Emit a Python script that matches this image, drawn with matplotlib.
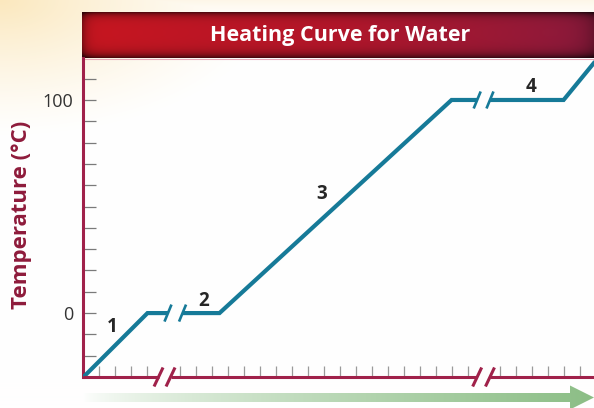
import numpy as np
import matplotlib
matplotlib.use("Agg")
import matplotlib.pyplot as plt
from matplotlib.patches import Polygon

W, H, DPI = 594, 408, 100

# Temperature axis
y_ticks = list(range(-20, 111, 10))
y_tick_labels = {0: "0", 100: "100"}
y_min, y_max = -30, 119.7

# Heat-added axis (arbitrary units), ticks skipped where the axis is broken
x_ticks = [k for k in range(1, 32) if k not in (5, 25)]
x_min, x_max = -0.03, 31.9
axis_break_marks = [(4.69, 5.44), (24.6, 25.4)]

# Heating curve, split into pieces at the two breaks
seg_x = [[0, 4, 5.28], [6.19, 8.5, 23, 24.6], [25.4, 30, 32.4]]
seg_y = [[-30, 0, 0], [0, 0, 100, 100], [100, 100, 122]]
curve_break_marks = [(5.28, 0), (6.19, 0), (24.6, 100), (25.4, 100)]

phase_labels = ["1", "2", "3", "4"]
phase_x = [1.78, 7.53, 14.9, 27.97]
phase_y = [-6.6, 5.6, 55.9, 106]

title = "Heating Curve for Water"
ylabel = "Temperature (°C)"

MAROON = "#A0214A"
CURVE = "#167A98"
FONT = ["Open Sans", "DejaVu Sans"]

fig = plt.figure(figsize=(W / DPI, H / DPI), dpi=DPI)

# ---- background layer in pixel coordinates ----
bg = fig.add_axes([0, 0, 1, 1], zorder=0)
bg.set_xlim(0, W)
bg.set_ylim(H, 0)
bg.axis("off")

yy, xx = np.mgrid[0:H, 0:W].astype(float)
glow = np.clip(1 - np.sqrt((xx / 280) ** 2 + (yy / 140) ** 2), 0, 1) ** 1.3
glow = np.maximum(glow, 0.35 * np.exp(-yy / 12))
cream = np.array([251, 232, 190]) / 255
img = np.ones((H, W, 3)) * (1 - glow[..., None]) + cream * glow[..., None]
bg.imshow(img, extent=(0, W, H, 0), aspect="auto", interpolation="bilinear")

# title band with shaded edges
bx0, bx1, by0, by1 = 82, W, 12, 58
bw, bh = bx1 - bx0, by1 - by0
t = np.linspace(0, 1, bw)
left_c = np.array([200, 22, 32]) / 255
mid_c = np.array([178, 22, 42]) / 255
right_c = np.array([140, 26, 60]) / 255
base = np.where(t[:, None] < 0.5,
                left_c + (mid_c - left_c) * (t[:, None] / 0.5),
                mid_c + (right_c - mid_c) * ((t[:, None] - 0.5) / 0.5))
vy = np.arange(bh)[:, None]
vx = np.arange(bw)[None, :]
shade = (1 - 0.55 * np.exp(-vy / 3.5) - 0.6 * np.exp(-(bh - 1 - vy) / 4.5)
         - 0.35 * np.exp(-vx / 5) - 0.25 * np.exp(-(bw - 1 - vx) / 12))
shade = np.clip(shade, 0.25, 1)
band = base[None, :, :] * shade[..., None]
bg.imshow(band, extent=(bx0, bx1, by1, by0), aspect="auto", interpolation="bilinear")
bg.plot([bx0, bx1], [by1 + 0.5, by1 + 0.5], color="#E7A9B8", lw=0.8)
bg.text(340, (by0 + by1) / 2 + 1, title, color="white",
        fontsize=15.5, fontweight="bold", family=FONT, ha="center", va="center")

# green arrow along the bottom
ax0, head = 83, 570
arrow = Polygon([(ax0, 393), (head, 393), (head, 385.5), (W, 397.5),
                 (head, 409.5), (head, 402), (ax0, 402)], closed=True,
                facecolor="none", edgecolor="none")
bg.add_patch(arrow)
ta = np.linspace(0, 1, W - ax0) ** 0.7
green = np.array([140, 190, 134]) / 255
grad = (1 - ta[:, None]) * np.ones(3) + ta[:, None] * green
grad_img = bg.imshow(grad[None, :, :], extent=(ax0, W, 410, 384),
                     aspect="auto", interpolation="bilinear")
grad_img.set_clip_path(arrow)

# ---- chart ----
L, R, B, T = 83 / W, 1.0, (H - 377) / H, (H - 58) / H
ax = fig.add_axes([L, B, R - L, T - B], zorder=2)
ax.patch.set_alpha(0)
ax.set_xlim(x_min, x_max)
ax.set_ylim(y_min, y_max)

px_x = (W * (R - L)) / (x_max - x_min)
px_y = (H * (T - B)) / (y_max - y_min)

for xs, ys in zip(seg_x, seg_y):
    ax.plot(xs, ys, color=CURVE, lw=3.0, solid_joinstyle="miter",
            solid_capstyle="butt", zorder=3)

for xc, yc in curve_break_marks:
    dx, dy = 3.5 / px_x, 8.5 / px_y
    ax.plot([xc - dx, xc + dx], [yc - dy, yc + dy], color=CURVE, lw=1.9,
            solid_capstyle="butt", zorder=3)

for txt, x, y in zip(phase_labels, phase_x, phase_y):
    ax.text(x, y, txt, fontsize=13.5, fontweight="bold", color="#262626",
            family=FONT, ha="center", va="center")

for side in ("top", "right", "bottom"):
    ax.spines[side].set_visible(False)
ax.spines["left"].set_color(MAROON)
ax.spines["left"].set_linewidth(2.2)

# bottom axis line with break marks
edges = [x_min] + [v for pair in axis_break_marks for v in pair] + [x_max]
for a, b in zip(edges[0::2], edges[1::2]):
    ax.plot([a, b], [y_min, y_min], color=MAROON, lw=2.2,
            solid_capstyle="butt", clip_on=False, zorder=4)
for pair in axis_break_marks:
    for xc in pair:
        dx, dy = 4.5 / px_x, 9.5 / px_y
        ax.plot([xc - dx, xc + dx], [y_min - dy, y_min + dy], color=MAROON,
                lw=2.2, solid_capstyle="butt", clip_on=False, zorder=4)

ax.set_yticks(y_ticks)
ax.set_yticklabels([y_tick_labels.get(v, "") for v in y_ticks], family=FONT)
ax.tick_params(axis="y", direction="in", length=9.5, width=0.9,
               color="#7a7a7a", labelsize=13, labelcolor="#333333", pad=7)
ax.set_xticks(x_ticks)
ax.set_xticklabels([])
ax.tick_params(axis="x", direction="in", length=8, width=0.9, color="#9a9a9a")

fig.text(22 / W, 1 - 215 / H, ylabel, rotation=90, color="#8E1B3B",
         fontsize=16, fontweight="bold", family=FONT, ha="center", va="center")

fig.savefig("out.png", dpi=DPI)
